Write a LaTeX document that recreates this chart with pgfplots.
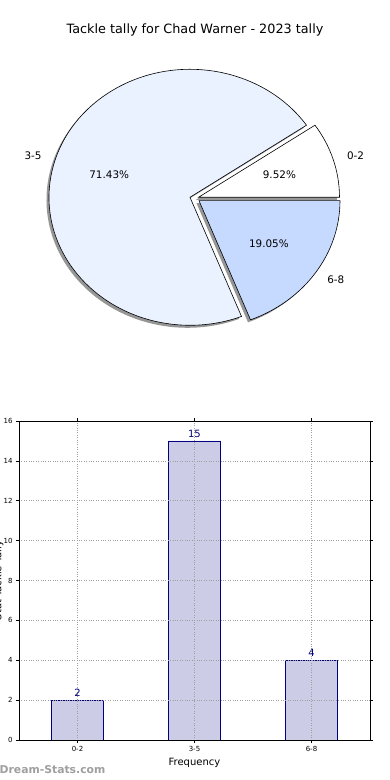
\documentclass[border=0pt]{standalone}
\usepackage{pgfplots}
\pgfplotsset{compat=1.18}
\usepackage{fontspec}
\setmainfont{DejaVu Sans}
\definecolor{pieB}{RGB}{234,241,255}
\definecolor{pieC}{RGB}{198,217,255}
\definecolor{barfill}{RGB}{204,204,230}
\definecolor{navyc}{RGB}{0,0,128}
\definecolor{shadowc}{RGB}{150,150,150}
% apex x, apex y, start angle, end angle, style
\newcommand{\pieslice}[5]{%
  \filldraw[#5] (axis cs:#1,#2) -- (axis cs:{#1+141*cos(#3)},{#2+128*sin(#3)})
    arc[start angle=#3,end angle=#4,x radius=141pt,y radius=128pt] -- cycle;}
\begin{document}
\begin{tikzpicture}[x=1pt,y=1pt]
% ---------------- pie ----------------
\begin{axis}[at={(0pt,390pt)}, anchor=south west, scale only axis,
  width=390pt, height=390pt, xmin=0, xmax=390, ymin=0, ymax=390,
  hide axis, clip=false]
  % counts: 0-2 -> 2, 3-5 -> 15, 6-8 -> 4 (total 21)
  % shadows
  \pieslice{196.0}{190.2}{0}{34.2857}{fill=shadowc, draw=none}
  \pieslice{187.5}{190.2}{34.2857}{291.4286}{fill=shadowc, draw=none}
  \pieslice{196.5}{186.8}{291.4286}{360}{fill=shadowc, draw=none}
  % slices
  \pieslice{198.5}{192.7}{0}{34.2857}{fill=white, draw=black, line width=0.6pt}
  \pieslice{190.0}{192.7}{34.2857}{291.4286}{fill=pieB, draw=black, line width=0.6pt}
  \pieslice{199.0}{189.3}{291.4286}{360}{fill=pieC, draw=black, line width=0.6pt}
  % percentages
  \node[font=\fontsize{10.4}{12}\selectfont] at (axis cs:279.4,215.3) {9.52\%};
  \node[font=\fontsize{10.4}{12}\selectfont] at (axis cs:109.2,215.3) {71.43\%};
  \node[font=\fontsize{10.4}{12}\selectfont] at (axis cs:268.9,146.0) {19.05\%};
  % labels
  \node[font=\fontsize{10.4}{12}\selectfont, anchor=west, inner sep=0] at (axis cs:346.8,234.2) {0-2};
  \node[font=\fontsize{10.4}{12}\selectfont, anchor=east, inner sep=0] at (axis cs:41.8,234.2) {3-5};
  \node[font=\fontsize{10.4}{12}\selectfont, anchor=west, inner sep=0] at (axis cs:327.1,110.0) {6-8};
  % title
  \node[font=\fontsize{12.8}{15}\selectfont] at (axis cs:195,360) {Tackle tally for Chad Warner - 2023 tally};
\end{axis}
% ---------------- bars ----------------
\begin{axis}[at={(19pt,40pt)}, anchor=south west, scale only axis,
  width=351pt, height=319pt,
  xmin=-0.5, xmax=2.5, ymin=0, ymax=16,
  ytick={0,2,...,16}, xtick={0,1,2}, xticklabels={0-2,3-5,6-8},
  tick align=outside, major tick length=3pt,
  tick style={black, line width=0.5pt},
  ticklabel style={font=\fontsize{7}{8}\selectfont},
  /pgf/number format/assume math mode=true,
  grid=major, grid style={dotted, gray!75, line width=0.7pt},
  axis on top, axis line style={line width=0.8pt},
  xlabel={Frequency}, xlabel style={font=\fontsize{10}{12}\selectfont},
  ylabel={Stat Tackle Tally},
  ylabel style={font=\fontsize{10}{12}\selectfont, at={(axis description cs:-0.05,0.5)}, anchor=base},
  nodes near coords,
  nodes near coords style={font=\fontsize{10}{12}\selectfont, text=navyc},
  ]
  \addplot[ybar, bar width=0.45, fill=barfill, draw=navyc, line width=0.7pt]
    coordinates {(0,2) (1,15) (2,4)};
\end{axis}
\node[anchor=west, inner sep=0, font=\bfseries\fontsize{10.8}{12}\selectfont, text=gray!75] at (-0.5,10) {Dream-Stats.com};
\pgfresetboundingbox
\path (0,0) rectangle (390,780);
\end{tikzpicture}
\end{document}
